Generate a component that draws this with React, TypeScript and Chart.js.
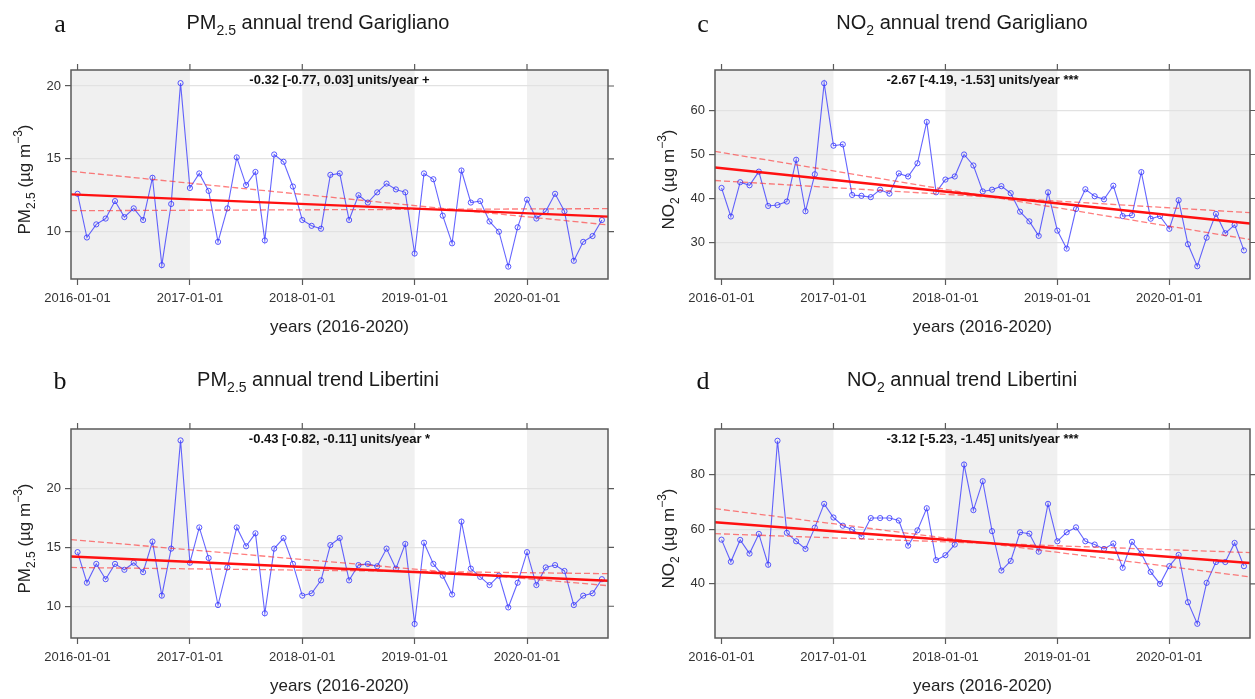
import React, { useEffect, useRef } from "react";
import { Chart, registerables } from "chart.js";

Chart.register(...registerables);

// ---------- data (monthly means, 2016-01 .. 2020-09) ----------
const xTickMonths = [0, 12, 24, 36, 48];
const xTickLabels = ["2016-01-01", "2017-01-01", "2018-01-01", "2019-01-01", "2020-01-01"];

const pm25Garigliano = [
  12.6, 9.6, 10.5, 10.9, 12.1, 11.0, 11.6, 10.8, 13.7, 7.7, 11.9, 20.2,
  13.0, 14.0, 12.8, 9.3, 11.6, 15.1, 13.2, 14.1, 9.4, 15.3, 14.8, 13.1,
  10.8, 10.4, 10.2, 13.9, 14.0, 10.8, 12.5, 12.0, 12.7, 13.3, 12.9, 12.7,
  8.5, 14.0, 13.6, 11.1, 9.2, 14.2, 12.0, 12.1, 10.7, 10.0, 7.6, 10.3,
  12.2, 10.9, 11.4, 12.6, 11.4, 8.0, 9.3, 9.7, 10.8,
];
const no2Garigliano = [
  42.4, 35.9, 43.7, 43.0, 46.1, 38.3, 38.5, 39.3, 48.8, 37.1, 45.5, 66.2,
  52.0, 52.3, 40.8, 40.6, 40.3, 42.0, 41.1, 45.7, 45.0, 48.0, 57.4, 41.4,
  44.3, 45.0, 50.0, 47.5, 41.6, 42.0, 42.8, 41.2, 37.0, 34.8, 31.5, 41.4,
  32.7, 28.6, 37.6, 42.1, 40.5, 39.8, 42.9, 36.0, 36.2, 46.0, 35.4, 36.0,
  33.1, 39.6, 29.6, 24.6, 31.1, 36.5, 32.1, 34.0, 28.2,
];
const pm25Libertini = [
  14.6, 12.0, 13.6, 12.3, 13.6, 13.1, 13.7, 12.9, 15.5, 10.9, 14.9, 24.1,
  13.7, 16.7, 14.1, 10.1, 13.3, 16.7, 15.1, 16.2, 9.4, 14.9, 15.8, 13.6,
  10.9, 11.1, 12.2, 15.2, 15.8, 12.2, 13.5, 13.6, 13.4, 14.9, 13.2, 15.3,
  8.5, 15.4, 13.6, 12.6, 11.0, 17.2, 13.2, 12.5, 11.8, 12.6, 9.9, 12.0,
  14.6, 11.8, 13.3, 13.5, 13.0, 10.1, 10.9, 11.1, 12.3,
];
const no2Libertini = [
  56.2, 48.1, 56.1, 51.1, 58.3, 47.0, 92.4, 58.7, 55.6, 52.8, 60.6, 69.3,
  64.3, 61.3, 59.9, 57.4, 64.1, 64.1, 64.1, 63.2, 54.0, 59.6, 67.7, 48.7,
  50.5, 54.4, 83.7, 67.0, 77.6, 59.3, 44.9, 48.4, 58.9, 58.4, 51.8, 69.3,
  55.6, 58.9, 60.7, 55.6, 54.4, 52.8, 54.8, 45.9, 55.4, 51.1, 44.4, 40.0,
  46.5, 50.6, 33.3, 25.4, 40.4, 48.0, 48.0, 55.0, 46.5,
];

// Theil-Sen slopes [estimate, lower, upper] (units/year) and intercepts at 2016-01
const slopesPm25Garigliano = [-0.32, -0.77, 0.03];
const interceptsPm25Garigliano = [12.54, 14.1, 11.44];
const slopesNo2Garigliano = [-2.67, -4.19, -1.53];
const interceptsNo2Garigliano = [46.9, 50.45, 44.0];
const slopesPm25Libertini = [-0.43, -0.82, -0.11];
const interceptsPm25Libertini = [14.2, 15.62, 13.29];
const slopesNo2Libertini = [-3.12, -5.23, -1.45];
const interceptsNo2Libertini = [62.4, 67.25, 58.3];

const yTicksPm25Garigliano = [10, 15, 20];
const yTicksNo2Garigliano = [30, 40, 50, 60];
const yTicksPm25Libertini = [10, 15, 20];
const yTicksNo2Libertini = [40, 60, 80];

// ---------- rendering ----------
const FONT = "'Liberation Sans', Arial, Helvetica, sans-serif";
const X_MIN = -0.7;
const X_MAX = 56.65;

type Seg = { t: string; k?: "sub" | "sup" };

function drawRich(ctx: CanvasRenderingContext2D, segs: Seg[], cx: number, cy: number, size: number, weight = "normal") {
  const small = Math.round(size * 0.72);
  const widths = segs.map((s) => {
    ctx.font = `${weight} ${s.k ? small : size}px ${FONT}`;
    return ctx.measureText(s.t).width;
  });
  const total = widths.reduce((a, b) => a + b, 0);
  let x = cx - total / 2;
  const base = cy + size * 0.36;
  ctx.textBaseline = "alphabetic";
  ctx.textAlign = "left";
  segs.forEach((s, i) => {
    ctx.font = `${weight} ${s.k ? small : size}px ${FONT}`;
    const dy = s.k === "sub" ? size * 0.28 : s.k === "sup" ? -size * 0.48 : 0;
    ctx.fillText(s.t, x, base + dy);
    x += widths[i];
  });
}

const decorPlugin = {
  id: "decor",
  beforeDraw(chart: any) {
    const { ctx, chartArea: a, scales } = chart;
    const x = scales.x;
    ctx.save();
    ctx.fillStyle = "#ffffff";
    ctx.fillRect(0, 0, chart.width, chart.height);
    ctx.fillStyle = "#F0F0F0";
    for (let i = 0; i < xTickMonths.length; i += 2) {
      const s = i === 0 ? x.min : xTickMonths[i];
      const e = i + 1 < xTickMonths.length ? xTickMonths[i + 1] : x.max;
      const p0 = x.getPixelForValue(s);
      const p1 = x.getPixelForValue(e);
      ctx.fillRect(p0, a.top, p1 - p0, a.bottom - a.top);
    }
    ctx.restore();
  },
  afterDraw(chart: any, _args: any, opts: any) {
    const { ctx, chartArea: a, scales } = chart;
    const x = scales.x;
    const y = scales.y;
    ctx.save();
    // box
    ctx.strokeStyle = "#5a5a5a";
    ctx.lineWidth = 1.5;
    ctx.strokeRect(a.left, a.top, a.right - a.left, a.bottom - a.top);
    // top & right ticks
    ctx.lineWidth = 1.2;
    ctx.beginPath();
    xTickMonths.forEach((m) => {
      const px = x.getPixelForValue(m);
      ctx.moveTo(px, a.top);
      ctx.lineTo(px, a.top - 6);
    });
    (opts.yTicks as number[]).forEach((v) => {
      const py = y.getPixelForValue(v);
      ctx.moveTo(a.right, py);
      ctx.lineTo(a.right + 6, py);
    });
    ctx.stroke();

    ctx.fillStyle = "#111";
    // panel letter
    ctx.font = `26px 'Liberation Serif', 'DejaVu Serif', serif`;
    ctx.textAlign = "center";
    ctx.textBaseline = "middle";
    ctx.fillText(opts.letter, opts.letterX, opts.titleY + 3);
    // title
    ctx.fillStyle = "#1a1a1a";
    drawRich(ctx, opts.title, opts.titleX, opts.titleY, 20);
    // annotation
    ctx.font = `bold 13px ${FONT}`;
    ctx.textAlign = "center";
    ctx.textBaseline = "middle";
    ctx.fillStyle = "#111";
    ctx.fillText(opts.annotation, (a.left + a.right) / 2, a.top + 10);
    // x label
    ctx.font = `17px ${FONT}`;
    ctx.fillStyle = "#222";
    ctx.fillText("years (2016-2020)", (a.left + a.right) / 2, a.bottom + 48);
    // y label
    ctx.translate(a.left - 47, (a.top + a.bottom) / 2 + 5);
    ctx.rotate(-Math.PI / 2);
    ctx.fillStyle = "#222";
    drawRich(ctx, opts.ylabel, 0, 0, 17);
    ctx.restore();
  },
};

type PanelSpec = {
  left: number;
  top: number;
  width: number;
  height: number;
  padding: { left: number; right: number; top: number; bottom: number };
  yWidth: number;
  xHeight: number;
  values: number[];
  slopes: number[];
  intercepts: number[];
  sig: string;
  yMin: number;
  yMax: number;
  yTicks: number[];
  letter: string;
  letterX: number;
  titleX: number;
  titleY: number;
  title: Seg[];
  ylabel: Seg[];
};

function trendLine(intercept: number, slope: number) {
  return [X_MIN, X_MAX].map((m) => ({ x: m, y: intercept + (slope * m) / 12 }));
}

function Panel({ spec }: { spec: PanelSpec }) {
  const ref = useRef<HTMLCanvasElement>(null);
  useEffect(() => {
    if (!ref.current) return;
    const s = spec;
    const annotation = `${s.slopes[0].toFixed(2)} [${s.slopes[1].toFixed(2)}, ${s.slopes[2].toFixed(2)}] units/year ${s.sig}`;
    const chart = new Chart(ref.current, {
      type: "line",
      data: {
        datasets: [
          {
            data: trendLine(s.intercepts[0], s.slopes[0]),
            borderColor: "#ff1010",
            borderWidth: 2.4,
            pointRadius: 0,
            order: 1,
          },
          {
            data: trendLine(s.intercepts[1], s.slopes[1]),
            borderColor: "rgba(255,40,40,0.6)",
            borderWidth: 1.3,
            borderDash: [6, 3],
            pointRadius: 0,
            order: 2,
          },
          {
            data: trendLine(s.intercepts[2], s.slopes[2]),
            borderColor: "rgba(255,40,40,0.6)",
            borderWidth: 1.3,
            borderDash: [6, 3],
            pointRadius: 0,
            order: 2,
          },
          {
            data: s.values.map((v, i) => ({ x: i, y: v })),
            borderColor: "rgba(50,50,255,0.75)",
            borderWidth: 1.1,
            pointRadius: 2.6,
            pointBorderWidth: 1,
            pointBorderColor: "rgba(50,50,255,0.8)",
            pointBackgroundColor: "rgba(255,255,255,0)",
            pointStyle: "circle",
            order: 3,
          },
        ],
      } as any,
      options: {
        animation: false,
        responsive: false,
        layout: { padding: s.padding },
        plugins: {
          legend: { display: false },
          tooltip: { enabled: false },
          title: { display: false },
          decor: {
            yTicks: s.yTicks,
            letter: s.letter,
            letterX: s.letterX,
            titleX: s.titleX,
            titleY: s.titleY,
            title: s.title,
            ylabel: s.ylabel,
            annotation,
          },
        } as any,
        scales: {
          x: {
            type: "linear",
            min: X_MIN,
            max: X_MAX,
            afterBuildTicks: (scale: any) => {
              scale.ticks = xTickMonths.map((v) => ({ value: v }));
            },
            afterFit: (scale: any) => {
              scale.height = s.xHeight;
            },
            ticks: {
              autoSkip: false,
              maxRotation: 0,
              padding: 6,
              color: "#333",
              font: { size: 13, family: FONT },
              callback: (v: any) => {
                const idx = xTickMonths.indexOf(Number(v));
                return idx >= 0 ? xTickLabels[idx] : "";
              },
            },
            grid: {
              drawOnChartArea: false,
              drawTicks: true,
              tickLength: 6,
              tickColor: "#5a5a5a",
              tickWidth: 1.2,
            },
            border: { display: false },
          },
          y: {
            type: "linear",
            min: s.yMin,
            max: s.yMax,
            afterBuildTicks: (scale: any) => {
              scale.ticks = s.yTicks.map((v) => ({ value: v }));
            },
            afterFit: (scale: any) => {
              scale.width = s.yWidth;
            },
            ticks: {
              padding: 4,
              color: "#333",
              font: { size: 13, family: FONT },
              callback: (v: any) => String(v),
            },
            grid: {
              color: "#e2e2e2",
              lineWidth: 1.2,
              drawTicks: true,
              tickLength: 6,
              tickColor: "#5a5a5a",
              tickWidth: 1.2,
            },
            border: { display: false },
          },
        },
      } as any,
      plugins: [decorPlugin],
    });
    return () => chart.destroy();
  }, [spec]);
  return (
    <canvas
      ref={ref}
      width={spec.width}
      height={spec.height}
      style={{ position: "absolute", left: spec.left, top: spec.top, width: spec.width, height: spec.height }}
    />
  );
}

const pmTitle = (site: string): Seg[] => [{ t: "PM" }, { t: "2.5", k: "sub" }, { t: ` annual trend ${site}` }];
const no2Title = (site: string): Seg[] => [{ t: "NO" }, { t: "2", k: "sub" }, { t: ` annual trend ${site}` }];
const pmYLabel: Seg[] = [{ t: "PM" }, { t: "2.5", k: "sub" }, { t: " (µg m" }, { t: "−3", k: "sup" }, { t: ")" }];
const no2YLabel: Seg[] = [{ t: "NO" }, { t: "2", k: "sub" }, { t: " (µg m" }, { t: "−3", k: "sup" }, { t: ")" }];

const panels: PanelSpec[] = [
  {
    left: 0, top: 0, width: 627, height: 350,
    padding: { left: 0, right: 19, top: 70, bottom: 0 },
    yWidth: 71, xHeight: 71,
    values: pm25Garigliano, slopes: slopesPm25Garigliano, intercepts: interceptsPm25Garigliano, sig: "+",
    yMin: 6.75, yMax: 21.1, yTicks: yTicksPm25Garigliano,
    letter: "a", letterX: 60, titleX: 318, titleY: 22,
    title: pmTitle("Garigliano"), ylabel: pmYLabel,
  },
  {
    left: 640, top: 0, width: 615, height: 350,
    padding: { left: 0, right: 3, top: 70, bottom: 0 },
    yWidth: 75, xHeight: 71,
    values: no2Garigliano, slopes: slopesNo2Garigliano, intercepts: interceptsNo2Garigliano, sig: "***",
    yMin: 21.7, yMax: 69.2, yTicks: yTicksNo2Garigliano,
    letter: "c", letterX: 63, titleX: 322, titleY: 22,
    title: no2Title("Garigliano"), ylabel: no2YLabel,
  },
  {
    left: 0, top: 350, width: 627, height: 349,
    padding: { left: 0, right: 19, top: 79, bottom: 0 },
    yWidth: 71, xHeight: 61,
    values: pm25Libertini, slopes: slopesPm25Libertini, intercepts: interceptsPm25Libertini, sig: "*",
    yMin: 7.3, yMax: 25.07, yTicks: yTicksPm25Libertini,
    letter: "b", letterX: 60, titleX: 318, titleY: 29,
    title: pmTitle("Libertini"), ylabel: pmYLabel,
  },
  {
    left: 640, top: 350, width: 615, height: 349,
    padding: { left: 0, right: 3, top: 79, bottom: 0 },
    yWidth: 75, xHeight: 61,
    values: no2Libertini, slopes: slopesNo2Libertini, intercepts: interceptsNo2Libertini, sig: "***",
    yMin: 20.2, yMax: 96.7, yTicks: yTicksNo2Libertini,
    letter: "d", letterX: 63, titleX: 322, titleY: 29,
    title: no2Title("Libertini"), ylabel: no2YLabel,
  },
];

export default function App() {
  return (
    <div style={{ position: "fixed", left: 0, top: 0, width: 1255, height: 699, background: "#fff", overflow: "hidden" }}>
      {panels.map((p, i) => (
        <Panel key={i} spec={p} />
      ))}
    </div>
  );
}
